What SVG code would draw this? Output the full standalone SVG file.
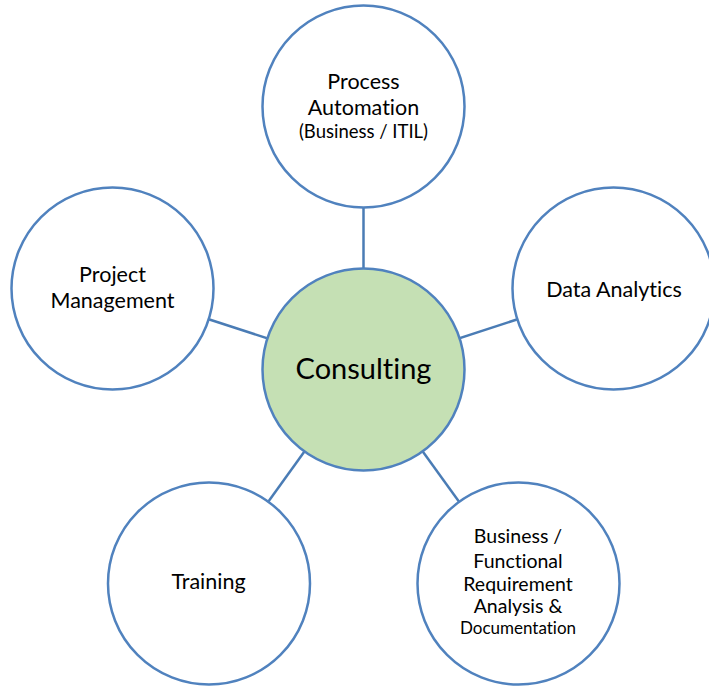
<svg xmlns="http://www.w3.org/2000/svg" width="709" height="686" viewBox="0 0 709 686">
<style>
.node{fill:#ffffff;stroke:#5082BE;stroke-width:2.5}
.hub{fill:#C5E0B4;stroke:#5082BE;stroke-width:2.5}
.conn line{stroke:#4A7CB5;stroke-width:2.5}
text{font-family:Lato,"Open Sans","Liberation Sans",sans-serif;font-size:21.5px;fill:#000;text-anchor:middle;font-variant-ligatures:none;font-feature-settings:"liga" 0,"dlig" 0}
.sm{font-size:18.5px}
.big{font-size:29px}
.br{font-size:19.5px}
</style>
<rect width="709" height="686" fill="#ffffff"/>
<g id="connectors" class="conn">
<line x1="363.5" y1="106.5" x2="363.5" y2="369.5"/>
<line x1="112.5" y1="288" x2="363.5" y2="369.5"/>
<line x1="613.5" y1="288" x2="363.5" y2="369.5"/>
<line x1="209" y1="584" x2="363.5" y2="369.5"/>
<line x1="518.5" y1="584" x2="363.5" y2="369.5"/>
</g>
<g id="process-automation">
<circle class="node" cx="363.5" cy="106.5" r="101"/>
<text x="363.5" y="89">Process</text>
<text x="363.5" y="115">Automation</text>
<text class="sm" x="363.5" y="138">(Business / ITIL)</text>
</g>
<g id="project-management">
<circle class="node" cx="112.5" cy="288.5" r="101"/>
<text x="112.5" y="282">Project</text>
<text x="112.5" y="308">Management</text>
</g>
<g id="data-analytics">
<circle class="node" cx="613.5" cy="288.5" r="101"/>
<text x="614" y="297">Data Analytics</text>
</g>
<g id="training">
<circle class="node" cx="209" cy="583.5" r="101"/>
<text x="208.5" y="589">Training</text>
</g>
<g id="business-requirement">
<circle class="node" cx="518.5" cy="583.5" r="101"/>
<text class="br" x="518" y="543">Business /</text>
<text class="br" x="518" y="568">Functional</text>
<text class="br" x="518" y="591">Requirement</text>
<text class="br" x="518" y="613">Analysis &amp;</text>
<text x="518" y="634" style="font-size:17px">Documentation</text>
</g>
<g id="consulting">
<circle class="hub" cx="363.5" cy="369.5" r="101"/>
<text class="big" x="363.5" y="379">Consulting</text>
</g>
</svg>
